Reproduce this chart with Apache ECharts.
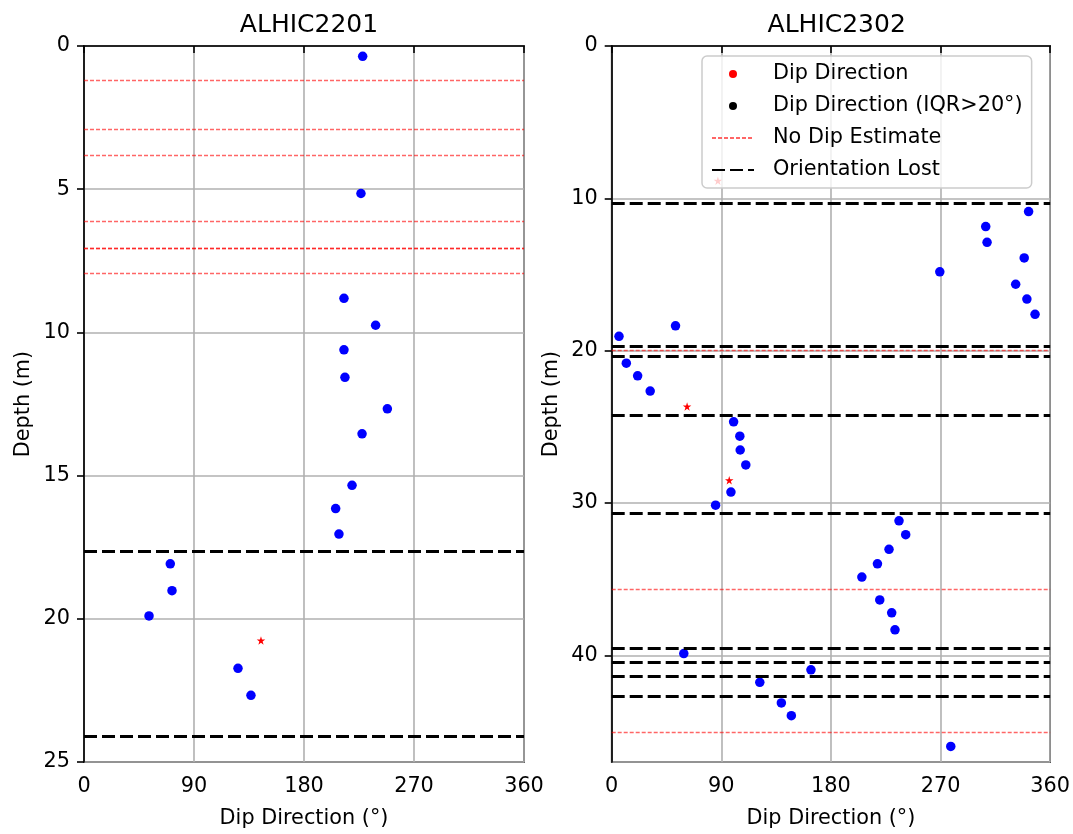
<!DOCTYPE html>
<html>
<head>
<meta charset="utf-8">
<script src="https://cdn.jsdelivr.net/npm/echarts@6/dist/echarts.min.js"></script>
<style>
html,body{margin:0;padding:0;background:#fff;}
#c{width:1073px;height:834px;}
</style>
</head>
<body>
<div id="c"></div>
<script>
// ---- data ----
const xTicks = [0, 90, 180, 270, 360];
const titles = ['ALHIC2201', 'ALHIC2302'];
const depthMax = [25, 47];

// ALHIC2201
const a1_iqr_dir   = [228, 226.6, 212.7, 238.6, 212.7, 213.5, 248.2, 227.5, 219.3, 205.9, 208.6, 70.6, 72, 53.2, 126, 136.6];
const a1_iqr_depth = [0.36, 5.15, 8.81, 9.75, 10.61, 11.57, 12.67, 13.54, 15.34, 16.15, 17.04, 18.08, 19.02, 19.9, 21.73, 22.67];
const a1_dip_dir   = [144.8];
const a1_dip_depth = [20.76];
const a1_nodip     = [1.18, 2.92, 3.82, 6.13, 7.06, 7.06, 7.93];
const a1_lost      = [17.65, 24.11];

// ALHIC2302
const a2_iqr_dir   = [342.3, 307.1, 308.2, 338.7, 269.4, 331.7, 340.9, 347.6, 52.4, 6.0, 12.0, 21.3, 31.6, 100.1, 105.2, 105.5, 110.1, 97.9, 85.3, 235.9, 241.4, 227.7, 218.2, 205.4, 220.1, 229.9, 232.6, 59.2, 163.6, 121.6, 139.3, 147.5, 278.4];
const a2_iqr_depth = [10.87, 11.85, 12.89, 13.91, 14.82, 15.64, 16.61, 17.61, 18.37, 19.06, 20.82, 21.65, 22.65, 24.67, 25.61, 26.52, 27.5, 29.28, 30.14, 31.17, 32.08, 33.04, 33.99, 34.86, 36.36, 37.21, 38.32, 39.88, 40.95, 41.77, 43.12, 43.96, 45.98];
const a2_dip_dir   = [87.2, 61.9, 96.5];
const a2_dip_depth = [8.85, 23.67, 28.51];
const a2_nodip     = [20.0, 35.64, 45.03];
const a2_lost      = [10.33, 19.71, 20.35, 24.24, 30.69, 39.53, 40.42, 41.4, 42.69];

const FONT = 'DejaVu Sans';
const FS = 20.8;
const STAR = 'path://M0,-100 L22.45,-30.9 L95.1,-30.9 L36.3,11.8 L58.8,80.9 L0,38.2 L-58.8,80.9 L-36.3,11.8 L-95.1,-30.9 L-22.45,-30.9 Z';
const CLEAR = 'rgba(0,0,0,0)';

const zip = (xs, ys) => xs.map((x, i) => [x, ys[i]]);

const noDipStyle = {color: 'rgba(255,0,0,0.6)', width: 1.4, type: [4, 2]};
const lostStyle = {color: '#000', width: 3, type: [13, 5]};

const panels = [
  {iqr: zip(a1_iqr_dir, a1_iqr_depth), dip: zip(a1_dip_dir, a1_dip_depth), nodip: a1_nodip, lost: a1_lost},
  {iqr: zip(a2_iqr_dir, a2_iqr_depth), dip: zip(a2_dip_dir, a2_dip_depth), nodip: a2_nodip, lost: a2_lost}
];

const grids = [
  {left: 84, top: 46, width: 440, height: 720, show: true, borderColor: '#000', borderWidth: 1.6, backgroundColor: 'transparent'},
  {left: 611.7, top: 46, width: 440, height: 720, show: true, borderColor: '#000', borderWidth: 1.6, backgroundColor: 'transparent'}
];

const xAxes = [0, 1].map(i => ({
  type: 'value', gridIndex: i, min: xTicks[0], max: xTicks[xTicks.length - 1], interval: xTicks[1] - xTicks[0],
  name: 'Dip Direction (°)', nameLocation: 'middle', nameGap: 46,
  nameTextStyle: {fontFamily: FONT, fontSize: FS, color: '#000'},
  axisLine: {show: true, lineStyle: {color: '#000', width: 1.6}},
  axisTick: {show: true, length: 7, lineStyle: {color: '#000', width: 1.6}},
  axisLabel: {fontFamily: FONT, fontSize: FS, color: '#000', margin: 14},
  splitLine: {show: true, lineStyle: {color: '#b0b0b0', width: 1.6}}
}));

const yAxes = [0, 1].map(i => ({
  type: 'value', gridIndex: i, inverse: true, min: 0, max: depthMax[i], interval: i === 0 ? 5 : 10,
  name: 'Depth (m)', nameLocation: 'middle', nameGap: 50, nameRotate: 90,
  nameTextStyle: {fontFamily: FONT, fontSize: FS, color: '#000'},
  axisLine: {show: true, lineStyle: {color: '#000', width: 1.6}},
  axisTick: {show: true, length: 7, lineStyle: {color: '#000', width: 1.6}},
  axisLabel: {fontFamily: FONT, fontSize: FS, color: '#000', margin: 14, showMaxLabel: i === 0},
  splitLine: {show: true, lineStyle: {color: '#b0b0b0', width: 1.6}}
}));

const series = [];
panels.forEach((p, i) => {
  series.push({
    name: 'No Dip Estimate', type: 'line', xAxisIndex: i, yAxisIndex: i, data: [], symbol: 'none', showSymbol: false,
    itemStyle: {color: CLEAR, borderColor: CLEAR, borderWidth: 0},
    lineStyle: noDipStyle, z: 2,
    markLine: {silent: true, symbol: 'none', label: {show: false}, animation: false,
      lineStyle: noDipStyle, data: p.nodip.map(d => ({yAxis: d}))}
  });
  series.push({
    name: 'Orientation Lost', type: 'line', xAxisIndex: i, yAxisIndex: i, data: [], symbol: 'none', showSymbol: false,
    itemStyle: {color: CLEAR, borderColor: CLEAR, borderWidth: 0},
    lineStyle: lostStyle, z: 2,
    markLine: {silent: true, symbol: 'none', label: {show: false}, animation: false,
      lineStyle: lostStyle, data: p.lost.map(d => ({yAxis: d}))}
  });
  series.push({
    name: 'Dip Direction (IQR>20°)', type: 'scatter', xAxisIndex: i, yAxisIndex: i,
    data: p.iqr, symbol: 'circle', symbolSize: 9.5, itemStyle: {color: '#0000ff', opacity: 1}, z: 2
  });
  series.push({
    name: 'Dip Direction', type: 'scatter', xAxisIndex: i, yAxisIndex: i,
    data: p.dip, symbol: STAR, symbolSize: 8.5, itemStyle: {color: '#ff0000', opacity: 1}, z: 2
  });
});

const option = {
  animation: false,
  backgroundColor: '#fff',
  title: titles.map((t, i) => ({
    text: t, left: i === 0 ? 304 : 831.7, top: 8, textAlign: 'center',
    textStyle: {fontFamily: FONT, fontSize: 25, fontWeight: 'normal', color: '#000'}
  })),
  legend: {
    orient: 'vertical', left: 702, top: 56, selectedMode: false, z: 10,
    padding: [7, 9, 7, 9], itemGap: 10, itemWidth: 42, itemHeight: 8,
    backgroundColor: 'rgba(255,255,255,0.8)', borderColor: '#cccccc', borderWidth: 1.5, borderRadius: 5,
    textStyle: {fontFamily: FONT, fontSize: FS, color: '#000', lineHeight: 22, padding: [0, 0, 0, 14]},
    data: [
      {name: 'Dip Direction', icon: 'circle', itemStyle: {color: '#ff0000', opacity: 1}},
      {name: 'Dip Direction (IQR>20°)', icon: 'circle', itemStyle: {color: '#000', opacity: 1}},
      {name: 'No Dip Estimate', itemStyle: {color: CLEAR, borderColor: CLEAR, borderWidth: 0}},
      {name: 'Orientation Lost', itemStyle: {color: CLEAR, borderColor: CLEAR, borderWidth: 0}}
    ]
  },
  grid: grids,
  xAxis: xAxes,
  yAxis: yAxes,
  series: series
};

const chart = echarts.init(document.getElementById('c'), null, {renderer: 'canvas'});
chart.setOption(option);
</script>
</body>
</html>
